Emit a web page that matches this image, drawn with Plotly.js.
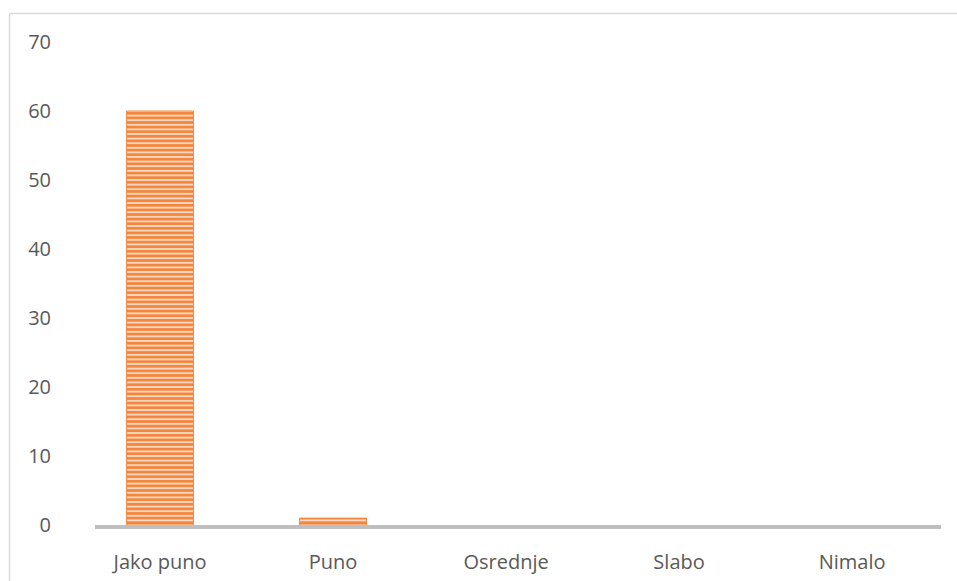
<!DOCTYPE html>
<html>
<head>
<meta charset="utf-8">
<script src="https://cdn.plot.ly/plotly-3.0.1.min.js"></script>
<style>html,body{margin:0;padding:0;background:#fff;}#chart{width:957px;height:581px;}</style>
</head>
<body>
<div id="chart"></div>
<script>
const categories = ["Jako puno", "Puno", "Osrednje", "Slabo", "Nimalo"];
const values = [60, 1, 0, 0, 0];
const yTicks = [0, 10, 20, 30, 40, 50, 60, 70];

const L = 95, R = 941, T = 42, B = 525, W = 957, H = 581;
const pw = R - L, ph = B - T;
const px = x => (x - L) / pw;
const py = y => (B - y) / ph;

const trace = {
  type: 'bar',
  x: [0, 1, 2, 3, 4],
  y: values,
  width: 0.387,
  marker: {
    color: '#f9c39f',
    line: {color: '#f28a45', width: values.map(v => v > 0 ? 1 : 0)},
    pattern: {shape: '-', fgcolor: '#f4873f', bgcolor: '#fbd7bf', size: 4.6, solidity: 0.6}
  },
  hoverinfo: 'skip'
};

const layout = {
  width: W, height: H,
  margin: {l: L, r: W - R, t: T, b: H - B, pad: 0},
  paper_bgcolor: '#fff', plot_bgcolor: '#fff',
  showlegend: false,
  font: {family: 'Open Sans, Liberation Sans, sans-serif', color: '#595959', size: 20},
  xaxis: {
    range: [-0.376, 4.514],
    tickmode: 'array', tickvals: [0, 1, 2, 3, 4], ticktext: categories,
    showgrid: false, zeroline: false,
    showline: true, linecolor: '#bfbfbf', linewidth: 4,
    ticks: '', ticklabelstandoff: 16,
    tickfont: {size: 20, color: '#595959'}
  },
  yaxis: {
    range: [0, 70],
    tickmode: 'array', tickvals: yTicks,
    showgrid: false, zeroline: false, showline: false,
    ticks: '', ticklabelstandoff: 43,
    tickfont: {size: 20, color: '#595959'}
  },
  shapes: [
    {type: 'line', xref: 'paper', yref: 'paper', x0: px(9.5), x1: px(9.5), y0: py(13.5), y1: py(600), line: {color: '#d9d9d9', width: 1.5}},
    {type: 'line', xref: 'paper', yref: 'paper', x0: px(9.5), x1: px(970), y0: py(13.5), y1: py(13.5), line: {color: '#d9d9d9', width: 1.5}}
  ]
};

Plotly.newPlot('chart', [trace], layout, {displayModeBar: false, staticPlot: true});
</script>
</body>
</html>
